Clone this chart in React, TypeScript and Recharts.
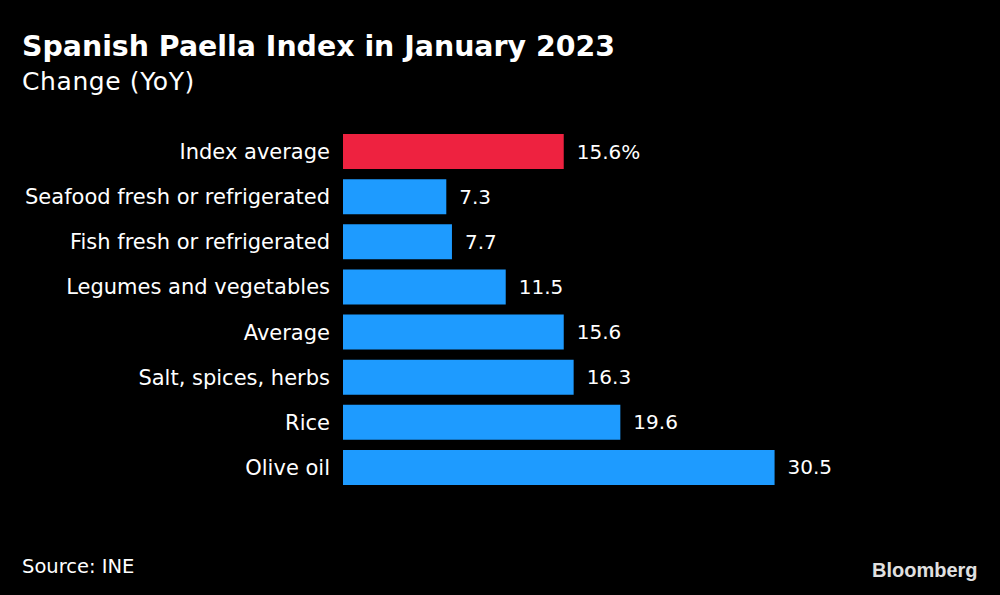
import React from "react";
import { BarChart, Bar, XAxis, YAxis, Cell, LabelList } from "recharts";

const categories = [
  "Index average",
  "Seafood fresh or refrigerated",
  "Fish fresh or refrigerated",
  "Legumes and vegetables",
  "Average",
  "Salt, spices, herbs",
  "Rice",
  "Olive oil",
];
const values = [15.6, 7.3, 7.7, 11.5, 15.6, 16.3, 19.6, 30.5];
const valueLabels = ["15.6%", "7.3", "7.7", "11.5", "15.6", "16.3", "19.6", "30.5"];

const data = categories.map((name, i) => ({ name, value: values[i], label: valueLabels[i] }));

const FONT = "'DejaVu Sans', sans-serif";
const RED = "#ee2240";
const BLUE = "#1e9bff";

export default function App() {
  return (
    <div
      style={{
        position: "absolute",
        left: 0,
        top: 0,
        width: 1000,
        height: 595,
        background: "#000",
        overflow: "hidden",
        fontFamily: FONT,
      }}
    >
      <div
        style={{
          position: "absolute",
          left: 22,
          top: 33,
          fontSize: 28.4,
          lineHeight: "28.4px",
          fontWeight: "bold",
          color: "#fff",
          whiteSpace: "nowrap",
        }}
      >
        Spanish Paella Index in January 2023
      </div>
      <div
        style={{
          position: "absolute",
          left: 22,
          top: 69,
          fontSize: 25,
          lineHeight: "25px",
          letterSpacing: 0.6,
          color: "#fff",
          whiteSpace: "nowrap",
        }}
      >
        Change (YoY)
      </div>
      <div style={{ position: "absolute", left: 0, top: 0 }}>
        <BarChart
          width={1000}
          height={595}
          data={data}
          layout="vertical"
          margin={{ top: 129, right: 91, bottom: 105, left: 0 }}
        >
          <XAxis type="number" domain={[0, 40]} hide />
          <YAxis
            type="category"
            dataKey="name"
            width={343}
            axisLine={false}
            tickLine={false}
            tickSize={0}
            tickMargin={13}
            interval={0}
            tick={{ fill: "#fff", fontSize: 21, fontFamily: FONT }}
          />
          <Bar dataKey="value" barSize={35} isAnimationActive={false}>
            {data.map((d, i) => (
              <Cell key={d.name} fill={i === 0 ? RED : BLUE} />
            ))}
            <LabelList
              dataKey="label"
              position="right"
              offset={13}
              fill="#fff"
              fontSize={20}
              fontFamily={FONT}
            />
          </Bar>
        </BarChart>
      </div>
      <div
        style={{
          position: "absolute",
          left: 22,
          top: 557,
          fontSize: 19.5,
          lineHeight: "19.5px",
          color: "#fff",
          whiteSpace: "nowrap",
        }}
      >
        Source: INE
      </div>
      <div
        style={{
          position: "absolute",
          left: 872,
          top: 560,
          fontSize: 20,
          lineHeight: "20px",
          fontWeight: "bold",
          color: "#e0e0e0",
          fontFamily: "'Liberation Sans', Arial, sans-serif",
          whiteSpace: "nowrap",
        }}
      >
        Bloomberg
      </div>
    </div>
  );
}
